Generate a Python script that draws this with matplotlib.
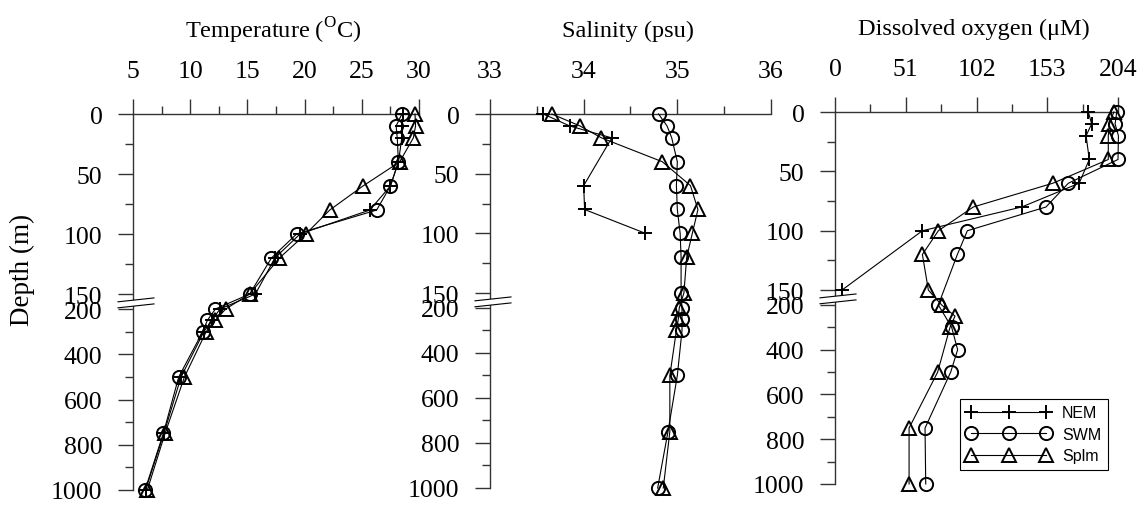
import numpy as np
import matplotlib
matplotlib.use('Agg')
import matplotlib.pyplot as plt
import matplotlib.transforms as mtransforms
from matplotlib.patches import Polygon
from matplotlib.ticker import FixedLocator, NullFormatter

plt.rcParams['font.family'] = 'Liberation Serif'
plt.rcParams['mathtext.fontset'] = 'custom'
plt.rcParams['mathtext.rm'] = 'Liberation Serif'

# ---- data (depth in m) ----
depth_all = [0, 10, 20, 40, 60, 80, 100, 120, 150, 200, 250, 300, 500, 750, 1000]

temp_nem = [28.6, 28.5, 28.5, 28.2, 27.5, 25.7, 19.6, 17.4, 15.7, 12.6, 11.9, 11.2, 9.2, 7.7, 6.1]
temp_swm = [28.5, 28.0, 28.1, 28.2, 27.5, 26.3, 19.3, 17.1, 15.2, 12.2, 11.5, 11.1, 9.0, 7.65, 6.05]
temp_splm = [29.65, 29.7, 29.5, 28.3, 25.1, 22.2, 20.1, 17.8, 15.2, 13.1, 12.2, 11.4, 9.5, 7.8, 6.25]

sal_nem_depth = [0, 10, 20, 60, 80, 100]
sal_nem = [33.57, 33.85, 34.30, 34.00, 34.01, 34.66]
sal_swm = [34.80, 34.89, 34.94, 35.00, 34.99, 35.00, 35.03, 35.04, 35.04, 35.05, 35.05, 35.05, 35.00, 34.90, 34.79]
sal_splm = [33.66, 33.96, 34.19, 34.84, 35.14, 35.22, 35.16, 35.10, 35.07, 35.02, 35.01, 34.99, 34.92, 34.92, 34.85]

oxy_nem_depth = [0, 10, 20, 40, 60, 80, 100, 150]
oxy_nem = [182.6, 185.0, 181.0, 183.3, 176.0, 134.6, 63.0, 5.0]
oxy_swm_depth = [0, 10, 20, 40, 60, 80, 100, 120, 200, 300, 400, 500, 750, 1000]
oxy_swm = [203.1, 201.9, 204.3, 204.0, 168.2, 152.1, 95.4, 88.2, 74.5, 84.1, 88.4, 83.4, 64.9, 65.4]
oxy_splm_depth = depth_all
oxy_splm = [201.0, 197.8, 197.0, 197.0, 157.0, 99.7, 74.5, 63.0, 67.3, 76.9, 86.5, 82.9, 74.0, 53.4, 53.4]

series_names = ['NEM', 'SWM', 'Splm']
markers = ['+', 'o', '^']

# broken depth axis: 0-150 linear, short gap, 200-1000 compressed
GAP = 12.5
LOW_K = 0.1885


def fwd(d):
    d = np.asarray(d, dtype=float)
    return np.where(d <= 150, d,
                    np.where(d >= 200, 150 + GAP + (d - 200) * LOW_K,
                             150 + (d - 150) * GAP / 50))


def inv(y):
    y = np.asarray(y, dtype=float)
    return np.where(y <= 150, y,
                    np.where(y >= 150 + GAP, 200 + (y - 150 - GAP) / LOW_K,
                             150 + (y - 150) * 50 / GAP))


W, H = 1142, 510
fig = plt.figure(figsize=(W / 100, H / 100), dpi=100)
axcol = '#333333'


def make_panel(x0, x1, y0, y1, xlim, xmajor, xminor, title):
    ax = fig.add_axes([x0 / W, 1 - y1 / H, (x1 - x0) / W, (y1 - y0) / H])
    ax.set_yscale('function', functions=(fwd, inv))
    ax.set_ylim(1000, 0)
    ax.set_xlim(*xlim)
    ax.yaxis.set_major_locator(FixedLocator([0, 50, 100, 150, 200, 400, 600, 800, 1000]))
    ax.yaxis.set_minor_locator(FixedLocator([25, 75, 125, 300, 500, 700, 900]))
    ax.yaxis.set_minor_formatter(NullFormatter())
    ax.xaxis.tick_top()
    ax.set_xticks(xmajor)
    ax.set_xticks(xminor, minor=True)
    for s in ['right', 'bottom']:
        ax.spines[s].set_visible(False)
    for s in ['top', 'left']:
        ax.spines[s].set_color(axcol)
        ax.spines[s].set_linewidth(1.0)
    ax.tick_params(axis='both', which='major', length=11, width=1.0, color=axcol,
                   labelsize=18.5, direction='out')
    ax.tick_params(axis='both', which='minor', length=6, width=1.0, color=axcol,
                   direction='out')
    ax.tick_params(axis='x', which='major', pad=12)
    ax.tick_params(axis='y', which='major', pad=11)
    ax.text(0.49, 1 + 84 / (y1 - y0), title, transform=ax.transAxes,
            ha='center', va='center', fontsize=17.5)

    # break marks on the depth axis
    tr = mtransforms.blended_transform_factory(ax.transAxes, ax.transData)
    xl, xr = -15 / (x1 - x0), 21 / (x1 - x0)
    ax.add_patch(Polygon([(xl, 176), (xr, 163), (xr, 183), (xl, 196)], closed=True,
                         facecolor='white', edgecolor='none', transform=tr,
                         clip_on=False, zorder=5))
    ax.plot([xl, xr], [176, 163], color='black', lw=0.8, transform=tr, clip_on=False, zorder=6)
    ax.plot([xl, xr], [196, 183], color='black', lw=0.8, transform=tr, clip_on=False, zorder=6)
    return ax


def draw(ax, xs_list, ds_list):
    handles = []
    for xs, ds, m, name in zip(xs_list, ds_list, markers, series_names):
        h, = ax.plot(xs, ds, color='black', lw=0.8, marker=m, markersize=9.5,
                     markerfacecolor='none', markeredgecolor='black',
                     markeredgewidth=1.4, clip_on=False, label=name, zorder=3)
        handles.append(h)
    return handles


ax1 = make_panel(133, 419, 115, 491, (5, 30), [5, 10, 15, 20, 25, 30],
                 [7.5, 12.5, 17.5, 22.5, 27.5], r'Temperature ($^{\mathrm{O}}$C)')
draw(ax1, [temp_nem, temp_swm, temp_splm], [depth_all, depth_all, depth_all])

ax2 = make_panel(490, 771, 115, 489, (33, 36), [33, 34, 35, 36],
                 [33.5, 34.5, 35.5], 'Salinity (psu)')
draw(ax2, [sal_nem, sal_swm, sal_splm], [sal_nem_depth, depth_all, depth_all])

ax3 = make_panel(835, 1118, 113, 485, (0, 204), [0, 51, 102, 153, 204],
                 [25.5, 76.5, 127.5, 178.5], 'Dissolved oxygen (\u03bcM)')
hs = draw(ax3, [oxy_nem, oxy_swm, oxy_splm], [oxy_nem_depth, oxy_swm_depth, oxy_splm_depth])

leg = ax3.legend(handles=hs, loc='upper left', bbox_to_anchor=(960 / W, 1 - 400 / H),
                 bbox_transform=fig.transFigure, borderaxespad=0, numpoints=3,
                 handlelength=5.3, handletextpad=0.7, labelspacing=0.4,
                 borderpad=0.4, prop={'family': 'Liberation Sans', 'size': 11.5},
                 fancybox=False, edgecolor='black', framealpha=1)
leg.get_frame().set_linewidth(0.8)

fig.text(22 / W, 1 - 270 / H, 'Depth (m)', rotation=90, ha='center', va='center', fontsize=19.5)

fig.savefig('out.png', dpi=100)
